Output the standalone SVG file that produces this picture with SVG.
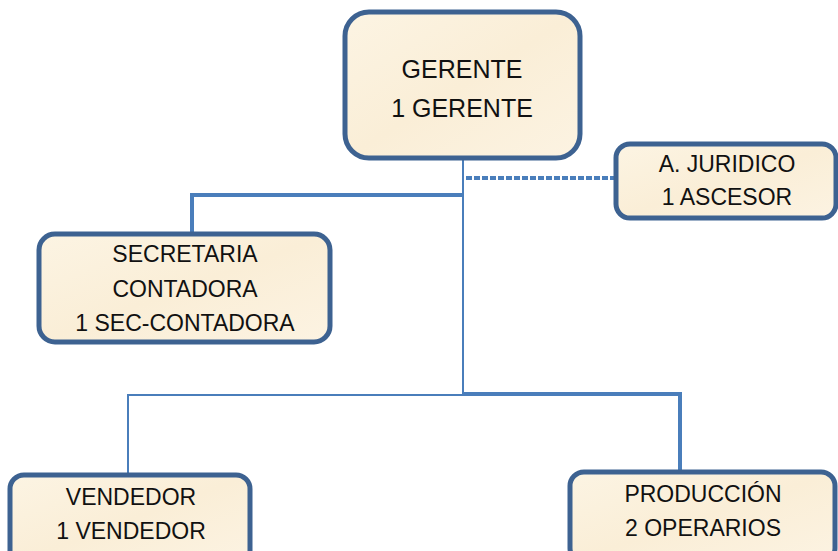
<svg xmlns="http://www.w3.org/2000/svg" width="838" height="551" viewBox="0 0 838 551">
<defs>
<linearGradient id="cream" x1="0" y1="0" x2="1" y2="1">
<stop offset="0" stop-color="#fcf4e3"/>
<stop offset="0.5" stop-color="#faeed7"/>
<stop offset="1" stop-color="#fcf3e2"/>
</linearGradient>
</defs>
<style>
.box{fill:url(#cream);stroke:#3d6291;stroke-width:5}
.t{font-family:"Liberation Sans",Arial,sans-serif;font-size:23px;fill:#111;text-anchor:middle}
.big{font-size:25px}
.ln{stroke:#4a7ebb;fill:none}
</style>
<rect width="838" height="551" fill="#fff"/>
<g id="connectors">
<line class="ln" x1="463" y1="160" x2="463" y2="395" stroke-width="2"/>
<polyline class="ln" points="463,195 192,195 192,234" stroke-width="4"/>
<line class="ln" x1="466" y1="178" x2="616" y2="178" stroke-width="4" stroke-dasharray="6,2"/>
<polyline class="ln" points="463,395 128,395 128,476" stroke-width="2"/>
<polyline class="ln" points="463,394 680,394 680,476" stroke-width="4"/>
</g>
<g id="gerente">
<rect class="box" x="345" y="12" width="235" height="146" rx="24"/>
<text class="t big" x="462" y="78">GERENTE</text>
<text class="t big" x="462" y="117">1 GERENTE</text>
</g>
<g id="juridico">
<rect class="box" x="616" y="144" width="220" height="74" rx="14"/>
<text class="t" x="727" y="172">A. JURIDICO</text>
<text class="t" x="727" y="205">1 ASCESOR</text>
</g>
<g id="secretaria">
<rect class="box" x="39" y="234" width="291" height="108" rx="16"/>
<text class="t" x="185" y="262">SECRETARIA</text>
<text class="t" x="185" y="297">CONTADORA</text>
<text class="t" x="185" y="331">1 SEC-CONTADORA</text>
</g>
<g id="vendedor">
<rect class="box" x="10" y="475" width="240" height="90" rx="14"/>
<text class="t" x="131" y="505">VENDEDOR</text>
<text class="t" x="131" y="539">1 VENDEDOR</text>
</g>
<g id="produccion">
<rect class="box" x="570" y="472" width="265" height="90" rx="14"/>
<text class="t" x="703" y="502">PRODUCCIÓN</text>
<text class="t" x="703" y="536">2 OPERARIOS</text>
</g>
</svg>
